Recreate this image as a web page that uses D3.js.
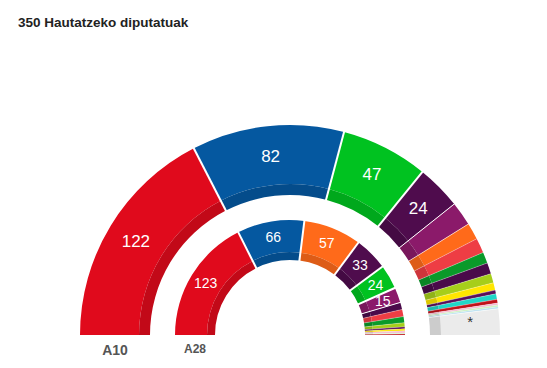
<!DOCTYPE html>
<html>
<head>
<meta charset="utf-8">
<script src="https://cdn.jsdelivr.net/npm/d3@7"></script>
<style>
  body { margin: 0; background: #fff; }
  svg { display: block; font-family: "Liberation Sans", Arial, sans-serif; }
</style>
</head>
<body>
<div id="chart"></div>
<script>
// seats per party, in drawing order (left to right)
const title = "350 Hautatzeko diputatuak";

const outerLabel = "A10";
const outerParties = ["PSOE", "PP", "VOX", "PODEMOS", "ERC", "CS", "JXCAT", "PNV", "ECP", "BILDU", "CC", "GEC", "BNG", "PRC", "NA", "COMPROMIS", "TERUEL", "*"];
const outerSeats   = [122, 82, 47, 24, 13, 9, 8, 6, 6, 5, 4, 2, 3, 2, 1, 1, 1, 14];

const innerLabel = "A28";
const innerParties = ["PSOE", "PP", "CS", "PODEMOS", "VOX", "ERC", "ECP", "JXCAT", "PNV", "BILDU", "GEC", "CC", "NA", "COMPROMIS", "PRC"];
const innerSeats   = [123, 66, 57, 33, 24, 15, 7, 7, 6, 4, 2, 2, 2, 1, 1];

const partyIds = ["PSOE", "PP", "VOX", "PODEMOS", "ERC", "CS", "JXCAT", "PNV", "ECP", "BILDU", "CC", "GEC", "BNG", "PRC", "NA", "COMPROMIS", "TERUEL", "*"];
const partyColors = ["#e00a1c", "#0558a0", "#00c220", "#4f0c4d", "#8b1a6a", "#ff6a1a", "#ee3d44", "#0a9a2a", "#4a0a4a", "#a6ce1a", "#ffe600", "#5a0f5a", "#20d6c8", "#c0121a", "#f5b8d0", "#c9f2c0", "#b8e0f0", "#ebebeb"];

const W = 547, H = 368;
const cx = 290, cy = 335;

const color = d3.scaleOrdinal().domain(partyIds).range(partyColors);

const svg = d3.select("#chart").append("svg")
    .attr("width", W)
    .attr("height", H);

svg.append("text")
    .attr("x", 18)
    .attr("y", 27)
    .attr("font-size", 13.5)
    .attr("font-weight", "bold")
    .attr("fill", "#222")
    .text(title);

const pie = d3.pie().sort(null).value(d => d.seats)
    .startAngle(-Math.PI / 2).endAngle(Math.PI / 2);

function drawRing(parties, seats, r0, rDark, r1, fontSize, label, labelSize, labelY) {
    let data = parties.map((p, i) => ({party: p, seats: seats[i]}));
    let arcs = pie(data);
    let g = svg.append("g").attr("transform", `translate(${cx},${cy})`);

    let outerArc = d3.arc().innerRadius(rDark).outerRadius(r1);
    let innerArc = d3.arc().innerRadius(r0).outerRadius(rDark);

    let slice = g.selectAll("g.slice").data(arcs).join("g").attr("class", "slice");

    slice.append("path")
        .attr("d", outerArc)
        .attr("fill", d => color(d.data.party));
    slice.append("path")
        .attr("d", innerArc)
        .attr("fill", d => d3.color(color(d.data.party)).darker(0.4));

    // white separators at slice starts (skip first)
    g.selectAll("line.sep").data(arcs.slice(1)).join("line")
        .attr("class", "sep")
        .attr("x1", d => (r0 - 1) * Math.sin(d.startAngle))
        .attr("y1", d => -(r0 - 1) * Math.cos(d.startAngle))
        .attr("x2", d => (r1 + 1) * Math.sin(d.startAngle))
        .attr("y2", d => -(r1 + 1) * Math.cos(d.startAngle))
        .attr("stroke", "#fff")
        .attr("stroke-width", (d, i) => arcs[i].data.seats >= 15 && d.data.seats >= 15 ? 2 : (d.data.seats >= 13 || arcs[i].data.seats >= 13 ? 1 : 0.5))
        .attr("stroke-opacity", (d, i) => arcs[i].data.seats >= 15 ? 1 : 0.6);

    let labelArc = d3.arc().innerRadius(rDark).outerRadius(r1);
    slice.filter(d => d.data.seats >= 15 || d.data.party === "*")
        .append("text")
        .attr("transform", d => `translate(${labelArc.centroid(d)})`)
        .attr("text-anchor", "middle")
        .attr("dy", d => d.data.party === "*" ? "0.2em" : "0.36em")
        .attr("font-size", d => d.data.party === "*" ? 15 : fontSize)
        .attr("fill", d => d.data.party === "*" ? "#333" : "#fff")
        .text(d => d.data.party === "*" ? "*" : d.data.seats);

    svg.append("text")
        .attr("x", cx - (r0 + r1) / 2)
        .attr("y", labelY)
        .attr("text-anchor", "middle")
        .attr("font-size", labelSize)
        .attr("font-weight", "bold")
        .attr("fill", "#555")
        .text(label);
}

drawRing(outerParties, outerSeats, 140, 151, 210, 17, outerLabel, 14, 355);
drawRing(innerParties, innerSeats, 75, 83, 115, 14, innerLabel, 12, 353);
</script>
</body>
</html>
